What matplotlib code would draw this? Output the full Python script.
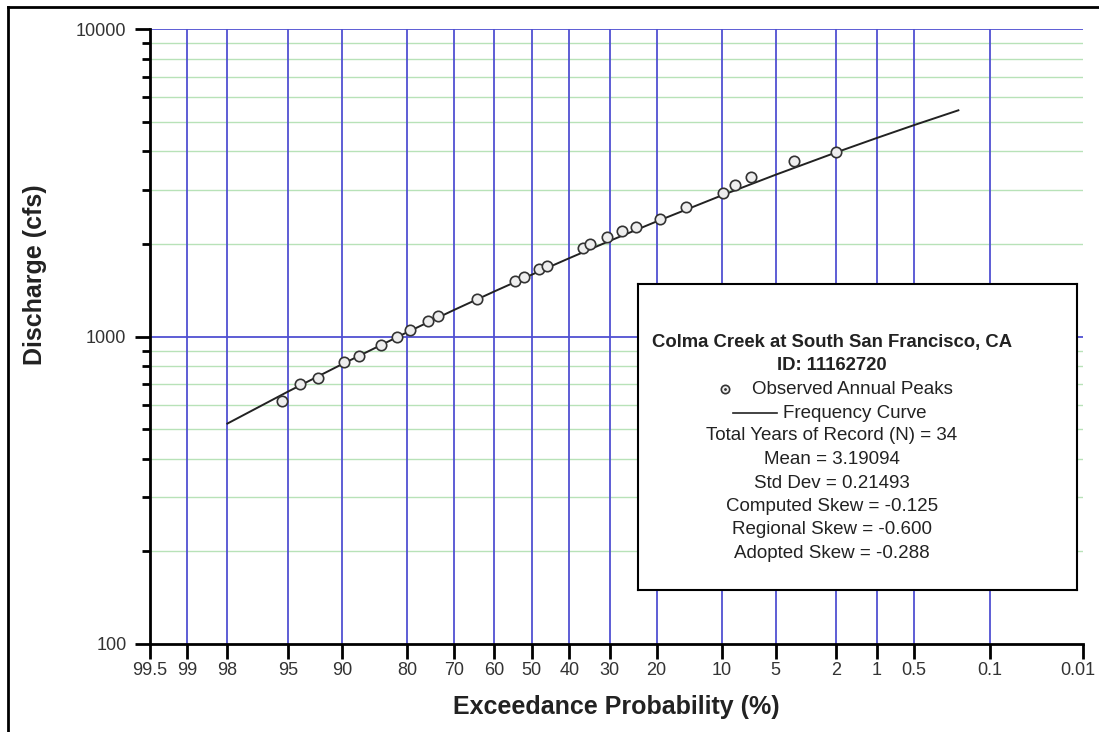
import math
import numpy as np
import matplotlib
matplotlib.use("Agg")
import matplotlib.pyplot as plt
from matplotlib.ticker import FixedLocator, FixedFormatter, NullFormatter
from matplotlib.lines import Line2D
from matplotlib.transforms import ScaledTranslation

plt.rcParams['font.family'] = ['Liberation Sans', 'DejaVu Sans']

# Observed annual peaks (exceedance %, discharge cfs)
obs_exc = [95.4, 94.1, 92.5, 89.8, 87.8, 84.6, 81.9, 79.5, 75.8, 73.6, 64.5,
           54.6, 52.2, 48.0, 45.9, 36.6, 34.6, 30.7, 27.2, 24.2, 19.4, 14.9,
           9.8, 8.5, 7.0, 3.84, 2.0]
obs_q = [619, 701, 732, 825, 867, 937, 995, 1051, 1121, 1164, 1328,
         1511, 1559, 1656, 1697, 1945, 2000, 2103, 2199, 2271, 2406, 2638,
         2924, 3104, 3311, 3727, 3991]

# Frequency curve
curve_exc = [98, 95, 90, 80, 70, 60, 50, 40, 30, 20, 10, 5, 2, 1, 0.5, 0.2]
curve_q = [521, 662, 812, 1032, 1220, 1401, 1589, 1798, 2045, 2366, 2876,
           3357, 3969, 4419, 4863, 5440]

tick_exc = [99.5, 99, 98, 95, 90, 80, 70, 60, 50, 40, 30, 20, 10, 5, 2, 1, 0.5, 0.1, 0.01]
tick_lbl = ["99.5", "99", "98", "95", "90", "80", "70", "60", "50", "40", "30",
            "20", "10", "5", "2", "1", "0.5", "0.1", "0.01"]

legend_lines = ["Total Years of Record (N) = 34", "Mean = 3.19094",
                "Std Dev = 0.21493", "Computed Skew = -0.125",
                "Regional Skew = -0.600", "Adopted Skew = -0.288"]

# probability scale: normal quantile of the exceedance probability
_erfc = np.vectorize(math.erfc, otypes=[float])


def exc_to_z(p):
    p = np.clip(np.asarray(p, dtype=float), 1e-9, 100 - 1e-9)
    q = p / 100.0
    lo = np.full(q.shape, -12.0)
    hi = np.full(q.shape, 12.0)
    for _ in range(60):
        mid = (lo + hi) / 2
        c = 0.5 * _erfc(-mid / math.sqrt(2))
        lo = np.where(c < q, mid, lo)
        hi = np.where(c < q, hi, mid)
    return (lo + hi) / 2


def z_to_exc(z):
    z = np.asarray(z, dtype=float)
    return 50.0 * _erfc(-z / math.sqrt(2))


fig = plt.figure(figsize=(10.99, 7.32), dpi=100)
ax = fig.add_axes([150 / 1099, 1 - 644 / 732, (1083 - 150) / 1099, (644 - 29) / 732])
ax.set_xscale('function', functions=(exc_to_z, z_to_exc))
ax.set_yscale('log')
ax.set_xlim(99.5, 0.01)
ax.set_ylim(100, 10000)

blue = '#5050d2'
green = '#b8e2b8'
# grid
for p in tick_exc[1:-1]:
    ax.axvline(p, color=blue, lw=1.3, zorder=1)
for v in list(range(200, 1000, 100)) + list(range(2000, 10000, 1000)):
    ax.axhline(v, color=green, lw=1.0, zorder=0.5)
for v in [1000, 10000]:
    ax.axhline(v, color=blue, lw=1.3, zorder=1)

ax.plot(curve_exc, curve_q, color='#222222', lw=1.4, zorder=3)
ax.plot(obs_exc, obs_q, ls='none', marker='o', ms=7.5, mfc='#eeeeee',
        mec='#333333', mew=1.2, zorder=4)

ax.xaxis.set_major_locator(FixedLocator(tick_exc))
ax.xaxis.set_major_formatter(FixedFormatter(tick_lbl))
ax.xaxis.set_minor_locator(FixedLocator([]))
ax.yaxis.set_major_locator(FixedLocator([100, 1000, 10000]))
ax.yaxis.set_major_formatter(FixedFormatter(["100", "1000", "10000"]))
ax.yaxis.set_minor_locator(FixedLocator(list(range(200, 1000, 100)) + list(range(2000, 10000, 1000))))
ax.yaxis.set_minor_formatter(NullFormatter())
ax.tick_params(axis='both', which='major', length=11, width=2, labelsize=13,
               labelcolor='#333333', direction='out')
ax.tick_params(axis='y', which='minor', length=6, width=2, direction='out')
ax.tick_params(axis='x', pad=2)
ax.tick_params(axis='y', pad=6)

# keep the last x label inside the figure
last = ax.xaxis.get_major_ticks()[-1].label1
last.set_transform(last.get_transform() + ScaledTranslation(-5 / 100, 0, fig.dpi_scale_trans))

for s in ['top', 'right']:
    ax.spines[s].set_visible(False)
for s in ['left', 'bottom']:
    ax.spines[s].set_linewidth(2)

ax.set_xlabel("Exceedance Probability (%)", fontsize=18, fontweight='bold', color='#222222')
ax.set_ylabel("Discharge (cfs)", fontsize=18, fontweight='bold', color='#222222')
ax.xaxis.set_label_coords(0.5, -0.083)
ax.yaxis.set_label_coords(-0.110, 0.601)

# legend box
lg = fig.add_axes([638 / 1099, 1 - 590 / 732, (1077 - 638) / 1099, (590 - 284) / 732])
lg.set_xlim(638, 1077)
lg.set_ylim(590, 284)
lg.set_xticks([])
lg.set_yticks([])
for s in lg.spines.values():
    s.set_linewidth(1.5)
cx = 832
fs = 13.5
lg.text(cx, 343, "Colma Creek at South San Francisco, CA", ha='center', va='center',
        fontsize=13.3, fontweight='bold', color='#222222')
lg.text(cx, 366, "ID: 11162720", ha='center', va='center',
        fontsize=13.3, fontweight='bold', color='#222222')
lg.plot([725], [389], ls='none', marker='o', ms=6, mfc='#eeeeee', mec='#333333', mew=1.2)
lg.plot([725], [389], ls='none', marker='.', ms=2, color='#333333')
lg.text(752, 389, "Observed Annual Peaks", ha='left', va='center', fontsize=fs, color='#222222')
lg.plot([733, 777], [413, 413], color='#222222', lw=1.2)
lg.text(783, 413, "Frequency Curve", ha='left', va='center', fontsize=fs, color='#222222')
for i, t in enumerate(legend_lines):
    lg.text(cx, 436 + i * 23.5, t, ha='center', va='center', fontsize=fs, color='#222222')

# outer frame (top and left edges)
fig.add_artist(Line2D([8 / 1099, 8 / 1099], [0, 1 - 7 / 732], color='black', lw=2,
                      transform=fig.transFigure))
fig.add_artist(Line2D([8 / 1099, 1], [1 - 7 / 732, 1 - 7 / 732], color='black', lw=2,
                      transform=fig.transFigure))

fig.savefig("out.png", dpi=100)
